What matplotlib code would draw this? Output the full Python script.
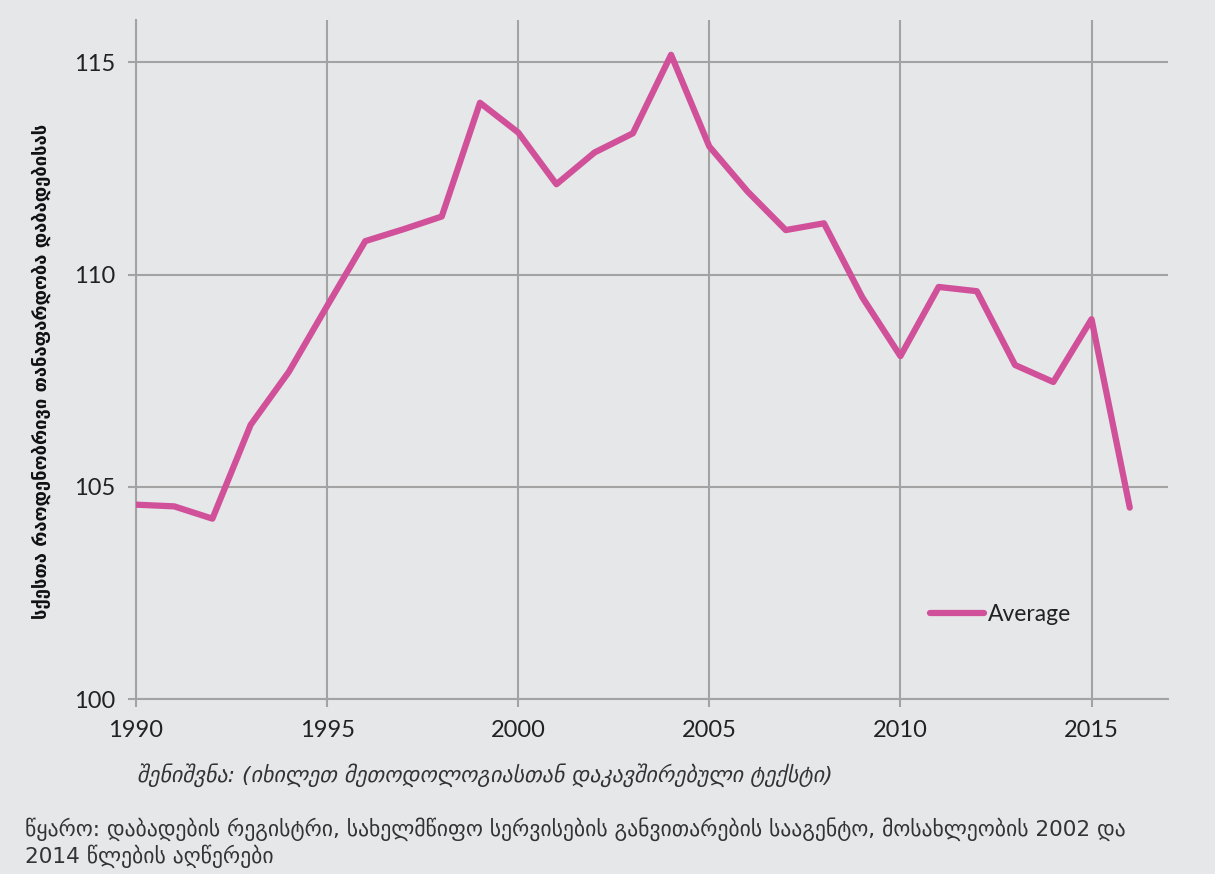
import numpy as np
import matplotlib
matplotlib.use("Agg")
import matplotlib.pyplot as plt
from matplotlib import ticker

# sex ratio at birth
years = np.arange(1990, 2017)
ratio = [104.58, 104.54, 104.25, 106.46, 107.71, 109.26, 110.79, 111.07, 111.37,
         114.05, 113.35, 112.13, 112.88, 113.33, 115.18, 113.02, 111.96, 111.05,
         111.21, 109.47, 108.08, 109.71, 109.61, 107.87, 107.47, 108.95, 104.51]

x_ticks = [1990, 1995, 2000, 2005, 2010, 2015]
y_ticks = [100, 105, 110, 115]

y_label = "სქესთა რაოდენობრივი თანაფარდობა დაბადებისას"
note_text = "შენიშვნა: (იხილეთ მეთოდოლოგიასთან დაკავშირებული ტექსტი)"
source_text = ("წყარო: დაბადების რეგისტრი, სახელმწიფო სერვისების განვითარების სააგენტო, მოსახლეობის 2002 და\n"
               "2014 წლების აღწერები")

bg = "#e6e7e9"
grid_col = "#a3a3a3"
line_col = "#d0519a"

plt.rcParams['font.family'] = ['Lato', 'DejaVu Sans']

fig = plt.figure(figsize=(12.15, 8.74), dpi=100, facecolor=bg)
ax = fig.add_axes([0.1119, 0.2002, 0.8494, 0.7769], facecolor=bg)

ax.plot(years, ratio, color=line_col, lw=4.5, solid_joinstyle='round',
        solid_capstyle='round', label="Average", zorder=3)

ax.set_xlim(1990, 2017)
ax.set_ylim(100, 116)
ax.xaxis.set_major_locator(ticker.FixedLocator(x_ticks))
ax.yaxis.set_major_locator(ticker.FixedLocator(y_ticks))
ax.grid(True, color=grid_col, lw=1.5, zorder=1)
for side in ['top', 'right']:
    ax.spines[side].set_visible(False)
for side in ['left', 'bottom']:
    ax.spines[side].set_color(grid_col)
    ax.spines[side].set_linewidth(1.5)
ax.tick_params(length=6, width=1.5, color=grid_col, labelsize=17,
               labelcolor="#222222", pad=9)

ax.set_ylabel(y_label, family=['DejaVu Sans'], fontweight='bold', fontsize=13.2,
              color="#111111")
ax.yaxis.set_label_coords(-0.082, 0.483)

ax.legend(loc='center left', bbox_to_anchor=(0.758, 0.124), frameon=False,
          fontsize=16.5, handlelength=2.35, handletextpad=0.2, borderpad=0,
          labelcolor="#222222")

fig.text(137 / 1215, 1 - 775 / 874, note_text, family=['DejaVu Sans'],
         style='italic', fontsize=15.8, color="#333333", va='center')
fig.text(25 / 1215, 1 - 843 / 874, source_text, family=['DejaVu Sans'],
         fontsize=15.6, color="#333333", va='center', linespacing=1.2)

fig.savefig("out.png", dpi=100, facecolor=bg)
